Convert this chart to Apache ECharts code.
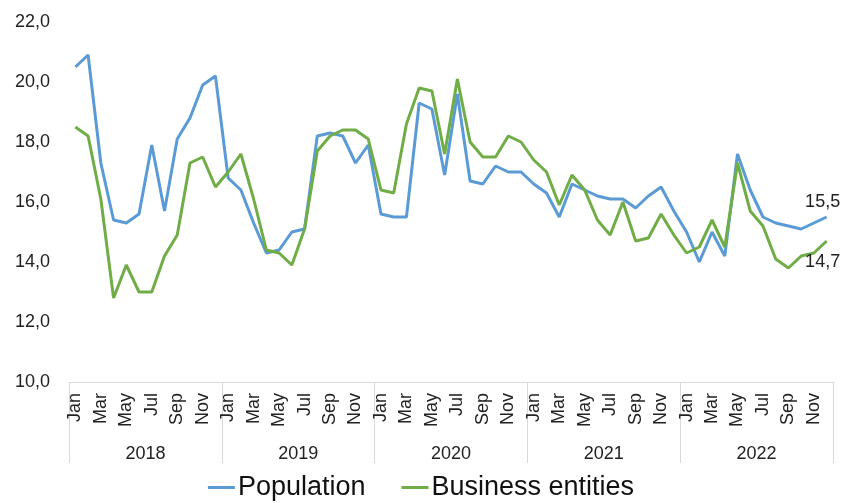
<!DOCTYPE html>
<html>
<head>
<meta charset="utf-8">
<script src="https://cdn.jsdelivr.net/npm/echarts@6/dist/echarts.min.js"></script>
<style>
  html, body { margin: 0; padding: 0; background: #fff; }
  #chart { width: 842px; height: 503px; }
</style>
</head>
<body>
<div id="chart"></div>
<script>
const years = ["2018", "2019", "2020", "2021", "2022"]
const monthNames = ["Jan", "Feb", "Mar", "Apr", "May", "Jun", "Jul", "Aug", "Sep", "Oct", "Nov", "Dec"]

const population = [
  20.5, 20.9, 17.3, 15.4, 15.3, 15.6, 17.9, 15.7, 18.1, 18.8, 19.9, 20.2,
  16.8, 16.4, 15.3, 14.3, 14.4, 15.0, 15.1, 18.2, 18.3, 18.2, 17.3, 17.9,
  15.6, 15.5, 15.5, 19.3, 19.1, 16.9, 19.6, 16.7, 16.6, 17.2, 17.0, 17.0,
  16.6, 16.3, 15.5, 16.6, 16.4, 16.2, 16.1, 16.1, 15.8, 16.2, 16.5, 15.7,
  15.0, 14.0, 15.0, 14.2, 17.6, 16.4, 15.5, 15.3, 15.2, 15.1, 15.3, 15.5,
]
const business = [
  18.5, 18.2, 16.1, 12.8, 13.9, 13.0, 13.0, 14.2, 14.9, 17.3, 17.5, 16.5,
  17.0, 17.6, 16.1, 14.4, 14.3, 13.9, 15.1, 17.7, 18.2, 18.4, 18.4, 18.1,
  16.4, 16.3, 18.6, 19.8, 19.7, 17.6, 20.1, 18.0, 17.5, 17.5, 18.2, 18.0,
  17.4, 17.0, 15.9, 16.9, 16.4, 15.4, 14.9, 16.0, 14.7, 14.8, 15.6, 14.9,
  14.3, 14.5, 15.4, 14.5, 17.3, 15.7, 15.2, 14.1, 13.8, 14.2, 14.3, 14.7,
]

const months = years.flatMap(() => monthNames)

const font = "'Liberation Sans', Arial, sans-serif"
const textColor = "#222"
const fmt = v => v.toFixed(1).replace(".", ",")

// value label at the end of each line
function endLabel(offset) {
  return {
    show: true,
    formatter: p => fmt(p.value),
    fontFamily: font,
    fontSize: 18,
    color: textColor,
    align: "center",
    verticalAlign: "middle",
    distance: 0,
    offset: offset,
  }
}

const chart = echarts.init(document.getElementById("chart"))

const option = {
  animation: false,
  textStyle: { fontFamily: font },
  grid: { left: 69, right: 9, top: 22, bottom: 121 },
  legend: {
    bottom: -3,
    left: "center",
    itemWidth: 27,
    itemHeight: 3,
    itemGap: 36,
    icon: "rect",
    textStyle: { fontFamily: font, fontSize: 27, color: "#111", padding: [0, 0, 0, -2] },
    data: ["Population", "Business entities"],
  },
  xAxis: [
    {
      type: "category",
      data: months,
      boundaryGap: true,
      axisLine: { show: true, lineStyle: { color: "#d9d9d9", width: 1 } },
      axisTick: { show: false },
      axisLabel: {
        interval: 1,
        rotate: 90,
        margin: 11,
        fontFamily: font,
        fontSize: 18,
        color: textColor,
      },
    },
    {
      type: "category",
      data: years,
      position: "bottom",
      boundaryGap: true,
      axisLine: { show: false },
      axisTick: { show: true, length: 81, lineStyle: { color: "#d9d9d9", width: 1 } },
      axisLabel: { margin: 63, fontFamily: font, fontSize: 18, color: textColor },
    },
  ],
  yAxis: {
    type: "value",
    min: 10,
    max: 22,
    interval: 2,
    axisLine: { show: false },
    axisTick: { show: false },
    splitLine: { show: false },
    axisLabel: { margin: 19, fontFamily: font, fontSize: 18, color: textColor, formatter: fmt },
  },
  series: [
    {
      name: "Population",
      type: "line",
      xAxisIndex: 0,
      data: population,
      symbol: "none",
      lineStyle: { color: "#5b9bd5", width: 3 },
      itemStyle: { color: "#5b9bd5" },
      endLabel: endLabel([-4, -15]),
    },
    {
      name: "Business entities",
      type: "line",
      xAxisIndex: 0,
      data: business,
      symbol: "none",
      lineStyle: { color: "#70ad47", width: 3 },
      itemStyle: { color: "#70ad47" },
      endLabel: endLabel([-4, 21]),
    },
  ],
}

chart.setOption(option)
</script>
</body>
</html>
